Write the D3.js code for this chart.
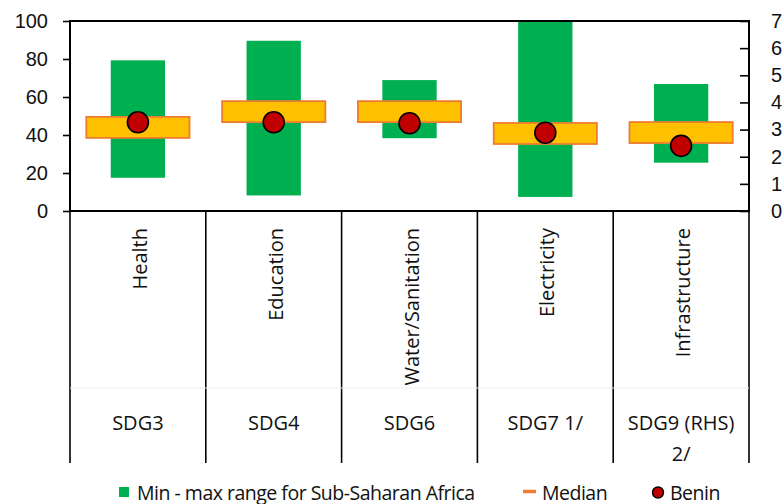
<!DOCTYPE html>
<html>
<head>
<meta charset="utf-8">
<script src="https://cdn.jsdelivr.net/npm/d3@7"></script>
<style>
  html, body { margin: 0; padding: 0; background: #fff; }
  svg { display: block; font-family: "Open Sans", "Noto Sans", sans-serif; }
  .tick text, .lbl { fill: #111; font-size: 20px; }
  .leg { fill: #111; font-size: 19.5px; letter-spacing: -0.5px; }
</style>
</head>
<body>
<svg id="chart" width="783" height="504"></svg>
<script>
// ---------- data ----------
var categories = ["Health", "Education", "Water/Sanitation", "Electricity", "Infrastructure"];
var groups = ["SDG3", "SDG4", "SDG6", "SDG7 1/", "SDG9 (RHS)\n2/"];
var rangeMin = [17.5, 8.2, 38.3, 7.4, 1.78];
var rangeMax = [79.3, 89.6, 68.9, 100, 4.68];
var median = [44.0, 52.3, 52.3, 40.8, 2.89];
var benin = [46.7, 46.7, 46.2, 41.2, 2.40];
var axisSide = ["left", "left", "left", "left", "right"];
var leftTicks = [0, 20, 40, 60, 80, 100];
var rightTicks = [0, 1, 2, 3, 4, 5, 6, 7];
var legendItems = ["Min - max range for Sub-Saharan Africa", "Median", "Benin"];

// ---------- layout ----------
var svg = d3.select("#chart");
var L = 70, R = 749, T = 21, B = 211, catBottom = 463;
var GREEN = "#00B050", YELLOW = "#FFC000", ORANGE = "#ED7D31", RED = "#C00000";

var x = d3.scaleBand().domain(categories).range([L, R]).padding(0);
var yL = d3.scaleLinear().domain([0, 100]).range([B, T]);
var yR = d3.scaleLinear().domain([0, 7]).range([B, T]);
function yOf(i, v) { return axisSide[i] === "right" ? yR(v) : yL(v); }

var rows = categories.map(function (c, i) {
  return { c: c, i: i, lo: rangeMin[i], hi: rangeMax[i], med: median[i], b: benin[i] };
});

// min-max range bars
var gw = x.bandwidth() * 0.40;
svg.append("g").selectAll("rect").data(rows).enter().append("rect")
  .attr("x", function (d) { return x(d.c) + (x.bandwidth() - gw) / 2; })
  .attr("width", gw)
  .attr("y", function (d) { return yOf(d.i, d.hi); })
  .attr("height", function (d) { return yOf(d.i, d.lo) - yOf(d.i, d.hi); })
  .attr("fill", GREEN);

// median boxes (fixed height, centred on median)
var mw = x.bandwidth() * 0.76, mh = 21;
svg.append("g").selectAll("rect").data(rows).enter().append("rect")
  .attr("x", function (d) { return x(d.c) + (x.bandwidth() - mw) / 2; })
  .attr("width", mw)
  .attr("y", function (d) { return yOf(d.i, d.med) - mh / 2; })
  .attr("height", mh)
  .attr("fill", YELLOW).attr("stroke", ORANGE).attr("stroke-width", 1.8);

// Benin dots
svg.append("g").selectAll("circle").data(rows).enter().append("circle")
  .attr("cx", function (d) { return x(d.c) + x.bandwidth() / 2; })
  .attr("cy", function (d) { return yOf(d.i, d.b); })
  .attr("r", 10.5)
  .attr("fill", RED).attr("stroke", "#000").attr("stroke-width", 1.6);

// plot frame
svg.append("rect").attr("x", L).attr("y", T).attr("width", R - L).attr("height", B - T)
  .attr("fill", "none").attr("stroke", "#000").attr("stroke-width", 2);

// axes
var gl = svg.append("g").attr("transform", "translate(" + L + ",0)")
  .call(d3.axisLeft(yL).tickValues(leftTicks).tickSizeInner(7).tickSizeOuter(0).tickPadding(15));
var gr = svg.append("g").attr("transform", "translate(" + R + ",0)")
  .call(d3.axisRight(yR).tickValues(rightTicks).tickSizeInner(-9).tickSizeOuter(0).tickPadding(22));
[gl, gr].forEach(function (g) {
  g.select(".domain").remove();
  g.selectAll(".tick line").attr("stroke", "#000").attr("stroke-width", 1.6);
  g.selectAll(".tick text").attr("font-size", 20).attr("font-family", null);
});

// multi-level category axis
var bounds = categories.map(function (c) { return x(c); }).concat([R]);
svg.append("g").selectAll("line").data(bounds).enter().append("line")
  .attr("x1", function (d) { return d; }).attr("x2", function (d) { return d; })
  .attr("y1", B).attr("y2", catBottom)
  .attr("stroke", "#000").attr("stroke-width", 1.6);
svg.append("line").attr("x1", L).attr("x2", R).attr("y1", 388).attr("y2", 388)
  .attr("stroke", "#efefef").attr("stroke-width", 1);

svg.append("g").selectAll("text").data(rows).enter().append("text")
  .attr("class", "lbl")
  .attr("transform", function (d) { return "translate(" + (x(d.c) + x.bandwidth() / 2 + 2) + ",228) rotate(-90)"; })
  .attr("text-anchor", "end").attr("dy", "0.35em")
  .text(function (d) { return d.c; });

var g2 = svg.append("g").selectAll("text").data(groups).enter().append("text")
  .attr("class", "lbl").attr("text-anchor", "middle")
  .attr("x", function (d, i) { return x(categories[i]) + x.bandwidth() / 2; })
  .attr("y", 430);
g2.each(function (d) {
  var t = d3.select(this);
  d.split("\n").forEach(function (s, k) {
    t.append("tspan").attr("x", t.attr("x")).attr("dy", k === 0 ? 0 : 31).text(s);
  });
});

// legend
var lg = svg.append("g");
var legX = [119, 523, 652];
var legTextX = [137, 542, 670];
lg.append("rect").attr("x", legX[0]).attr("y", 487).attr("width", 10).attr("height", 10).attr("fill", GREEN);
lg.append("line").attr("x1", legX[1]).attr("x2", legX[1] + 13).attr("y1", 491.5).attr("y2", 491.5)
  .attr("stroke", ORANGE).attr("stroke-width", 3.5);
lg.append("circle").attr("cx", legX[2] + 6).attr("cy", 492.5).attr("r", 5.5)
  .attr("fill", RED).attr("stroke", "#000").attr("stroke-width", 1.4);
lg.selectAll("text").data(legendItems).enter().append("text")
  .attr("class", "leg")
  .attr("x", function (d, i) { return legTextX[i]; })
  .attr("y", 500)
  .text(function (d) { return d; });
</script>
</body>
</html>
